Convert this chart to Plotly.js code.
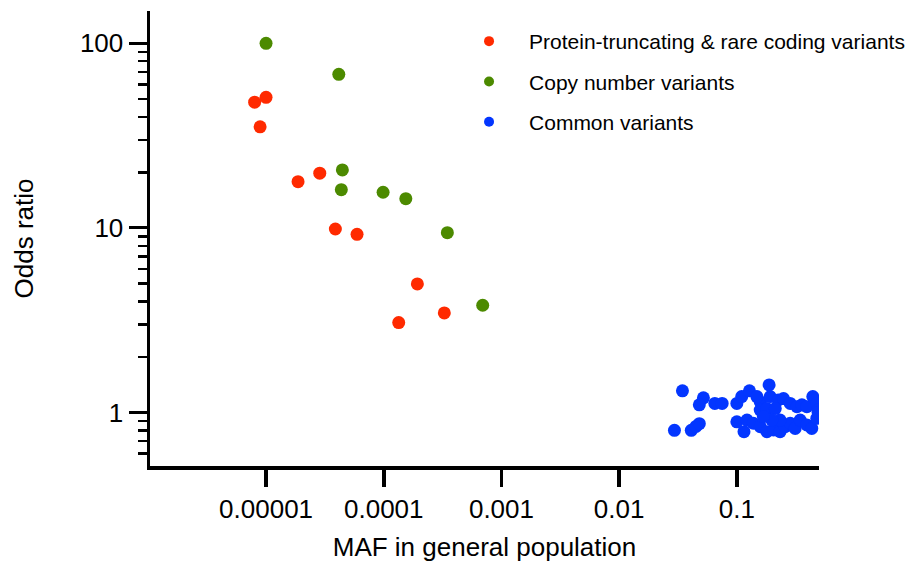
<!DOCTYPE html>
<html><head><meta charset="utf-8">
<script src="https://cdn.plot.ly/plotly-3.0.1.min.js"></script>
<style>html,body{margin:0;padding:0;background:#fff}#chart{width:906px;height:566px}</style>
</head><body><div id="chart"></div>
<script>
// Protein-truncating & rare coding variants
const ptvMAF = [8.0e-6, 1.0e-5, 8.9e-6, 1.87e-5, 2.86e-5, 3.88e-5, 5.93e-5, 1.93e-4, 3.27e-4, 1.34e-4];
const ptvOR  = [48, 51, 35.3, 17.8, 19.8, 9.86, 9.23, 4.97, 3.46, 3.07];
// Copy number variants
const cnvMAF = [1.0e-5, 4.15e-5, 4.45e-5, 4.36e-5, 9.87e-5, 1.54e-4, 3.47e-4, 6.93e-4];
const cnvOR  = [100, 67.9, 20.6, 16.1, 15.6, 14.4, 9.42, 3.81];
// Common variants
const comMAF = [0.0345, 0.0295, 0.052, 0.048, 0.041, 0.045, 0.048, 0.065, 0.075, 0.10, 0.11, 0.128, 0.188,
                0.10, 0.115, 0.122,
                0.158, 0.192, 0.225, 0.249, 0.284, 0.324, 0.357, 0.393, 0.442, 0.478, 0.49, 0.158, 0.18, 0.212, 0.148,
                0.138, 0.158, 0.18, 0.205, 0.233, 0.257, 0.284, 0.313, 0.345, 0.393, 0.433, 0.478, 0.233, 0.198,
                0.168, 0.49];
const comOR  = [1.31, 0.80, 1.20, 1.10, 0.80, 0.84, 0.87, 1.12, 1.12, 1.12, 1.22, 1.31, 1.41,
                0.89, 0.787, 0.91,
                1.14, 1.22, 1.17, 1.19, 1.12, 1.075, 1.10, 1.075, 1.22, 1.12, 1.03, 1.03, 1.05, 1.05, 1.22,
                0.874, 0.838, 0.787, 0.804, 0.787, 0.838, 0.874, 0.82, 0.91, 0.856, 0.82, 0.93, 0.91, 0.91,
                0.95, 1.0];

const seriesNames = ['Protein-truncating & rare coding variants', 'Copy number variants', 'Common variants'];
const seriesColors = ['#ff2a00', '#4c8a00', '#0336ff'];

const xTickVals = [1e-5, 1e-4, 1e-3, 1e-2, 1e-1];
const xTickText = ['0.00001', '0.0001', '0.001', '0.01', '0.1'];
const yTickVals = [1, 10, 100];
const yTickText = ['1', '10', '100'];
const yMinorVals = [0.6, 0.7, 0.8, 0.9, 2, 3, 4, 5, 6, 7, 8, 9, 20, 30, 40, 50, 60, 70, 80, 90];

const FONT = 'Liberation Sans, Arial, sans-serif';
const xs = [ptvMAF, cnvMAF, comMAF];
const ys = [ptvOR, cnvOR, comOR];

const traces = [];
for (let i = 0; i < 3; i++) {
  traces.push({
    x: xs[i], y: ys[i], type: 'scatter', mode: 'markers',
    marker: {size: 13, color: seriesColors[i], line: {width: 0}},
    showlegend: false, hoverinfo: 'x+y'
  });
}
for (let i = 0; i < 3; i++) {
  traces.push({
    x: [null], y: [null], type: 'scatter', mode: 'markers', name: seriesNames[i],
    legendgroup: 'g' + i,
    marker: {size: 10, color: seriesColors[i], line: {width: 0}},
    showlegend: true
  });
}

const layout = {
  width: 906, height: 566,
  margin: {l: 150, r: 87, t: 11, b: 100, autoexpand: false},
  paper_bgcolor: '#fff', plot_bgcolor: '#fff',
  font: {family: FONT, color: '#000', size: 26},
  showlegend: true,
  legend: {x: 0.447, y: 0.978, xanchor: 'left', yanchor: 'top', font: {size: 21, family: FONT, color: '#000'},
           bgcolor: 'rgba(0,0,0,0)', tracegroupgap: 10, itemwidth: 70},
  xaxis: {
    type: 'log', range: [-5.986, -0.302],
    tickmode: 'array', tickvals: xTickVals, ticktext: xTickText,
    ticks: 'outside', ticklen: 17, tickwidth: 3.5, tickcolor: '#000',
    showline: true, linecolor: '#000', linewidth: 3.5,
    showgrid: false, zeroline: false,
    tickfont: {size: 26, family: FONT, color: '#000'},
    title: {text: 'MAF in general population', font: {size: 26, family: FONT, color: '#000'}, standoff: 16},
    automargin: false
  },
  yaxis: {
    type: 'log', range: [-0.29, 2.175],
    tickmode: 'array', tickvals: yTickVals, ticktext: yTickText,
    ticks: 'outside', ticklen: 18, tickwidth: 3, tickcolor: '#000',
    minor: {tickmode: 'array', tickvals: yMinorVals, ticks: 'outside', ticklen: 9, tickwidth: 2.5, tickcolor: '#000', showgrid: false},
    showline: true, linecolor: '#000', linewidth: 3.5,
    showgrid: false, zeroline: false,
    tickfont: {size: 26, family: FONT, color: '#000'},
    title: {text: 'Odds ratio', font: {size: 26, family: FONT, color: '#000'}, standoff: 40},
    automargin: false
  }
};

Plotly.newPlot('chart', traces, layout, {displayModeBar: false, staticPlot: true});
</script>
</body></html>
